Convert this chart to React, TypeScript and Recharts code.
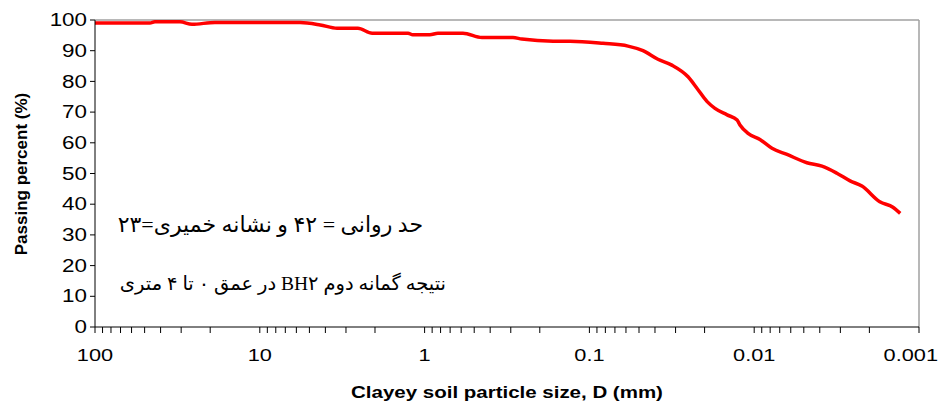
import React from "react";
import { LineChart, Line, XAxis, YAxis, ReferenceLine } from "recharts";

// grain size (mm), coarse to fine
const sizeMm = [
  100, 46.4, 43.3, 30.5, 25.8, 18.7, 5.7, 4.3, 3.4, 2.54, 2.08, 1.26, 1.18, 0.93,
  0.83, 0.585, 0.449, 0.291, 0.257, 0.166, 0.131, 0.0827, 0.0583, 0.0473, 0.0384,
  0.0316, 0.0252, 0.0222, 0.0193, 0.0173, 0.0146, 0.0127, 0.0122, 0.0109, 0.00923,
  0.0078, 0.00632, 0.00479, 0.00388, 0.00315, 0.00262, 0.00222, 0.00173, 0.00144,
  0.0013,
];
const passingPct = [
  99.0, 99.0, 99.4, 99.4, 98.6, 99.2, 99.2, 98.4, 97.3, 97.3, 95.7, 95.7, 95.2, 95.2,
  95.7, 95.7, 94.3, 94.3, 93.8, 93.1, 93.1, 92.4, 91.5, 90.0, 87.2,
  85.3, 81.5, 77.7, 73.4, 71.2, 69.1, 67.4, 65.8, 63.1, 61.1,
  58.2, 56.2, 53.5, 52.4, 50.1, 47.6, 45.9, 40.8, 39.0,
  37.0,
];

const decadeTicks = [100, 10, 1, 0.1, 0.01, 0.001];
const decadeLabels = ["100", "10", "1", "0.1", "0.01", "0.001"];
const minorSteps = [2, 3, 4, 5, 6, 7, 8, 9];
const yTicks = [0, 10, 20, 30, 40, 50, 60, 70, 80, 90, 100];

const noteLine1 = "حد روانی = ۴۲ و نشانه خمیری=۲۳";
const noteLine2 = "نتیجه گمانه دوم BH۲ در عمق ۰ تا ۴ متری";

const data = sizeMm.map((d, i) => ({ d, p: passingPct[i] }));
const xTicks = [
  ...decadeTicks,
  ...decadeTicks.slice(1).flatMap((t) => minorSteps.map((m) => m * t)),
];

const sans = "'Liberation Sans', Arial, sans-serif";
const stretch = 1.28;

const XTick = ({ x, y, payload }: any) => {
  const idx = decadeTicks.indexOf(payload.value);
  if (idx < 0) return null;
  // last label is pulled in so it stays inside the frame, like Excel does
  const last = idx === decadeTicks.length - 1;
  const tx = last ? 938 : x;
  return (
    <g transform={`translate(${tx},${y}) scale(${stretch},1)`}>
      <text
        x={0}
        y={0}
        dy="0.71em"
        textAnchor={last ? "end" : "middle"}
        fontSize={17}
        fontFamily={sans}
        fill="#000"
      >
        {decadeLabels[idx]}
      </text>
    </g>
  );
};

const YTick = ({ x, y, payload }: any) => (
  <g transform={`translate(${x},${y}) scale(${stretch},1)`}>
    <text x={0} y={0} dy="0.35em" textAnchor="end" fontSize={17.5} fontFamily={sans} fill="#000">
      {payload.value}
    </text>
  </g>
);

export default function App() {
  return (
    <div style={{ position: "absolute", left: 0, top: 0, width: 943, height: 403, background: "#fff" }}>
      <LineChart width={943} height={403} data={data} margin={{ top: 20, right: 24, left: 0, bottom: 0 }}>
        <XAxis
          dataKey="d"
          type="number"
          scale="log"
          domain={[0.001, 100]}
          reversed
          allowDataOverflow
          ticks={xTicks}
          interval={0}
          height={76}
          tickSize={6}
          tickMargin={16}
          tick={<XTick />}
          axisLine={{ stroke: "#000" }}
          tickLine={{ stroke: "#000" }}
        />
        <YAxis
          dataKey="p"
          type="number"
          domain={[0, 100]}
          ticks={yTicks}
          interval={0}
          width={95}
          tickSize={5}
          tickMargin={3}
          tick={<YTick />}
          axisLine={{ stroke: "#000" }}
          tickLine={{ stroke: "#000" }}
        />
        <ReferenceLine y={100} stroke="#a0a0a0" strokeWidth={1.5} />
        <ReferenceLine x={0.001} stroke="#a0a0a0" strokeWidth={1.5} />
        <Line
          dataKey="p"
          type="monotone"
          stroke="#ff0000"
          strokeWidth={3.5}
          dot={false}
          isAnimationActive={false}
        />
      </LineChart>

      <div
        style={{
          position: "absolute",
          left: 22,
          top: 174,
          transform: "translate(-50%,-50%) rotate(-90deg)",
          whiteSpace: "nowrap",
          fontFamily: sans,
          fontWeight: "bold",
          fontSize: 17,
        }}
      >
        Passing percent (%)
      </div>
      <div
        style={{
          position: "absolute",
          left: 507,
          top: 393,
          transform: `translate(-50%,-50%) scaleX(${stretch})`,
          whiteSpace: "nowrap",
          fontFamily: sans,
          fontWeight: "bold",
          fontSize: 16,
        }}
      >
        Clayey soil particle size, D (mm)
      </div>

      <div
        dir="rtl"
        style={{
          position: "absolute",
          right: 943 - 423,
          top: 225,
          transform: "translateY(-50%)",
          whiteSpace: "nowrap",
          fontFamily: "'Liberation Serif', 'DejaVu Sans', serif",
          fontSize: 22,
        }}
      >
        {noteLine1}
      </div>
      <div
        dir="rtl"
        style={{
          position: "absolute",
          right: 943 - 446,
          top: 283,
          transform: "translateY(-50%)",
          whiteSpace: "nowrap",
          fontFamily: "'Liberation Serif', 'DejaVu Sans', serif",
          fontSize: 19.5,
        }}
      >
        {noteLine2}
      </div>
    </div>
  );
}
